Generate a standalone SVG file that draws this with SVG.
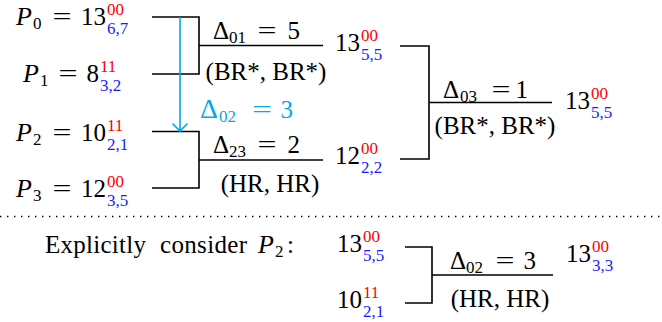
<svg xmlns="http://www.w3.org/2000/svg" width="662" height="322" viewBox="0 0 662 322">
<defs>
<style>
text{font-family:"Liberation Serif","Times New Roman",serif;font-size:25px;fill:#000}
.it{font-style:italic;font-size:26px}
.s{font-size:17px}
.r{fill:#ff0000}
.b{fill:#1a1aff}
.c{fill:#00a8ec}
.m{text-anchor:middle}
.e{text-anchor:end}
.ln{stroke:#000;stroke-width:1.6;fill:none}
.cy{stroke:#00a8ec;stroke-width:1.6;fill:none}
</style>
</defs>
<rect width="662" height="322" fill="#fff"/>

<g id="P0">
<text x="16" y="25" class="it">P</text><text x="33" y="29" class="s">0</text>
<text x="62" y="25" class="m" textLength="19" lengthAdjust="spacingAndGlyphs">=</text>
<text x="106" y="25" class="e">13</text>
<text x="107" y="15" class="s r">00</text><text x="107" y="34" class="s b">6,7</text>
</g>
<g id="P1">
<text x="23" y="82" class="it">P</text><text x="40" y="86" class="s">1</text>
<text x="68" y="82" class="m" textLength="19" lengthAdjust="spacingAndGlyphs">=</text>
<text x="99" y="82" class="e">8</text>
<text x="100" y="72" class="s r">11</text><text x="100" y="91" class="s b">3,2</text>
</g>
<g id="P2">
<text x="16" y="141" class="it">P</text><text x="33" y="145" class="s">2</text>
<text x="62" y="141" class="m" textLength="19" lengthAdjust="spacingAndGlyphs">=</text>
<text x="106" y="141" class="e">10</text>
<text x="107" y="131" class="s r">11</text><text x="107" y="150" class="s b">2,1</text>
</g>
<g id="P3">
<text x="16" y="197" class="it">P</text><text x="33" y="201" class="s">3</text>
<text x="62" y="197" class="m" textLength="19" lengthAdjust="spacingAndGlyphs">=</text>
<text x="106" y="197" class="e">12</text>
<text x="107" y="187" class="s r">00</text><text x="107" y="206" class="s b">3,5</text>
</g>

<g id="merge01">
<text x="213" y="39">Δ</text><text x="229" y="43" class="s">01</text>
<text x="267" y="39" class="m" textLength="19" lengthAdjust="spacingAndGlyphs">=</text>
<text x="300" y="39" class="e">5</text>
<text x="266" y="80" class="m">(BR*, BR*)</text>
</g>
<g id="merge23">
<text x="213" y="153">Δ</text><text x="229" y="157" class="s">23</text>
<text x="267" y="153" class="m" textLength="19" lengthAdjust="spacingAndGlyphs">=</text>
<text x="300" y="153" class="e">2</text>
<text x="270" y="192" class="m">(HR, HR)</text>
</g>
<g id="n13a">
<text x="335" y="51">13</text>
<text x="361" y="41" class="s r">00</text><text x="361" y="60" class="s b">5,5</text>
</g>
<g id="n12">
<text x="335" y="164">12</text>
<text x="361" y="154" class="s r">00</text><text x="361" y="173" class="s b">2,2</text>
</g>
<g id="merge03">
<text x="443" y="98">Δ</text><text x="460" y="102" class="s">03</text>
<text x="501" y="98" class="m" textLength="19" lengthAdjust="spacingAndGlyphs">=</text>
<text x="528" y="98" class="e">1</text>
<text x="495" y="134" class="m">(BR*, BR*)</text>
</g>
<g id="result">
<text x="565" y="109">13</text>
<text x="591" y="99" class="s r">00</text><text x="591" y="118" class="s b">5,5</text>
</g>
<g id="delta02">
<text x="200" y="118" class="c" style="font-size:28px">Δ</text><text x="219" y="122" class="s c">02</text>
<text x="262" y="118" class="m c" textLength="20" lengthAdjust="spacingAndGlyphs">=</text>
<text x="293" y="118" class="e c">3</text>
</g>

<g id="explicit">
<text x="45" y="253" textLength="101">Explicitly</text>
<text x="160" y="253" textLength="87">consider</text>
<text x="258" y="253" class="it">P</text><text x="275" y="257" class="s">2</text>
<text x="287" y="253">:</text>
</g>
<g id="b13">
<text x="337" y="252">13</text>
<text x="363" y="242" class="s r">00</text><text x="363" y="261" class="s b">5,5</text>
</g>
<g id="b10">
<text x="337" y="308">10</text>
<text x="363" y="298" class="s r">11</text><text x="363" y="317" class="s b">2,1</text>
</g>
<g id="merge02">
<text x="450" y="269">Δ</text><text x="466" y="273" class="s">02</text>
<text x="505" y="269" class="m" textLength="19" lengthAdjust="spacingAndGlyphs">=</text>
<text x="536" y="269" class="e">3</text>
<text x="500" y="307" class="m">(HR, HR)</text>
</g>
<g id="bres">
<text x="566" y="262">13</text>
<text x="592" y="252" class="s r">00</text><text x="592" y="271" class="s b">3,3</text>
</g>

<g id="connectors">
<path class="ln" d="M152 17H199V74H152M199 45.5H323"/>
<path class="ln" d="M152 131.5H199V188H152M199 160H323"/>
<path class="ln" d="M400 46H429V159H400M429 102.5H552"/>
<path class="ln" d="M405 247H432V303H405M432 275H553"/>
<path class="cy" d="M180 17V131M172.5 123.5L180 131L187.5 123.5"/>
<line x1="0" y1="216.5" x2="662" y2="216.5" stroke="#000" stroke-width="1.4" stroke-dasharray="1.4 5.6"/>
</g>
</svg>
